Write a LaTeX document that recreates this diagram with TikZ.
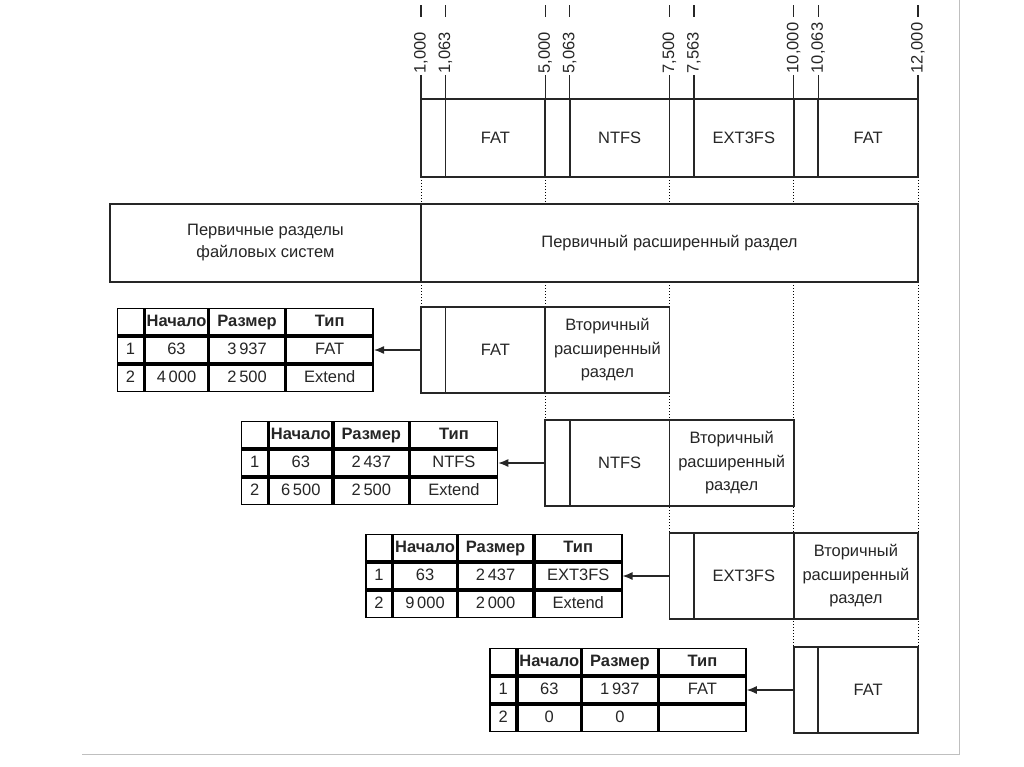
\documentclass[tikz,border=0pt]{standalone}
\usepackage{fontspec}
\setmainfont{Liberation Sans}
\usetikzlibrary{positioning, matrix, arrows.meta, backgrounds}

\begin{document}
\begin{tikzpicture}[x=1pt, y=-1pt, black!85, line width=1.6pt,
  font=\fontsize{16.5}{22}\selectfont]

  % styles
  \tikzset{
    seg/.style={rectangle, draw, fill=white, inner sep=0pt, outer sep=0pt, minimum height=78pt, align=center},
    boot/.style={seg, minimum width=24.5pt},
    fs/.style={seg, minimum width=99.75pt},
    sub/.style={minimum height=86pt},
    second/.style={seg, sub, minimum width=124.25pt, font=\fontsize{16.5}{23.5}\selectfont},
    ticklab/.style={rotate=90, anchor=west, inner sep=1pt},
    guide/.style={dotted, line width=1pt},
    arrow/.style={line width=1.3pt, -{Latex[length=10pt,width=8pt]}},
    fattable/.style={matrix of nodes, nodes in empty cells, inner sep=0pt, outer sep=0pt,
      column sep=0pt, row sep=0pt,
      nodes={draw, inner sep=0pt, outer sep=0pt, minimum height=26.5pt, text height=12pt, text depth=3.5pt, anchor=center},
      column 1/.style={nodes={minimum width=26pt}},
      column 2/.style={nodes={minimum width=63pt}},
      column 3/.style={nodes={minimum width=75pt}},
      column 4/.style={nodes={minimum width=87pt}},
      row 1/.style={nodes={font=\fontsize{16.5}{18}\selectfont\bfseries}}}
  }

  \useasboundingbox (0,0) rectangle (1024,767);
  \draw[black!25, line width=0.8pt] (82,754) -- (959,754) -- (959,0);

  % disk
  \node[boot, anchor=north west] (b1) at (421,99) {};
  \node[fs, right=0pt of b1] (d1) {FAT};
  \node[boot, right=0pt of d1] (b2) {};
  \node[fs, right=0pt of b2] (d2) {NTFS};
  \node[boot, right=0pt of d2] (b3) {};
  \node[fs, right=0pt of b3] (d3) {EXT3FS};
  \node[boot, right=0pt of d3] (b4) {};
  \node[fs, right=0pt of b4] (d4) {FAT};

  % offsets
  \foreach \bx/\lab in {b1/{1,000}, d1/{1,063}, b2/{5,000}, d2/{5,063}, b3/{7,500}, d3/{7,563}, b4/{10,000}, d4/{10,063}} {
    \node[ticklab] (l\bx) at ([yshift=24pt]\bx.north west) {\lab};
    \draw[line width=1.1pt] (l\bx.west) -- (\bx.north west);
    \draw[line width=1.1pt] ([yshift=82pt]\bx.north west) -- ([yshift=94pt]\bx.north west);
  }
  \node[ticklab] (lend) at ([yshift=24pt]d4.north east) {12,000};
  \draw[line width=1.1pt] (lend.west) -- (d4.north east);
  \draw[line width=1.1pt] ([yshift=82pt]d4.north east) -- ([yshift=94pt]d4.north east);

  % primary partitions
  \node[seg, minimum width=497pt, below=27pt of b1.south west, anchor=north west] (ext) {Первичный расширенный раздел};
  \node[seg, minimum width=311pt, left=0pt of ext] (prim) {Первичные разделы\\файловых систем};

  % extended partition chain
  \node[boot, sub, below=25pt of ext.south west, anchor=north west] (r1b) {};
  \node[fs, sub, right=0pt of r1b] (r1f) {FAT};
  \node[second, right=0pt of r1f] (r1s) {Вторичный\\расширенный\\раздел};

  \node[boot, sub, anchor=north west] (r2b) at ([yshift=-27pt]r1b.south -| b2.west) {};
  \node[fs, sub, right=0pt of r2b] (r2f) {NTFS};
  \node[second, right=0pt of r2f] (r2s) {Вторичный\\расширенный\\раздел};

  \node[boot, sub, anchor=north west] (r3b) at ([yshift=-27pt]r2b.south -| b3.west) {};
  \node[fs, sub, right=0pt of r3b] (r3f) {EXT3FS};
  \node[second, right=0pt of r3f] (r3s) {Вторичный\\расширенный\\раздел};

  \node[boot, sub, anchor=north west] (r4b) at ([yshift=-28pt]r3b.south -| b4.west) {};
  \node[fs, sub, right=0pt of r4b] (r4f) {FAT};

  % partition tables
  \matrix (t1) [fattable, left=47pt of r1b] {
     & Начало & Размер & Тип \\
    1 & 63 & 3\,937 & FAT \\
    2 & 4\,000 & 2\,500 & Extend \\
  };
  \matrix (t2) [fattable, left=47pt of r2b] {
     & Начало & Размер & Тип \\
    1 & 63 & 2\,437 & NTFS \\
    2 & 6\,500 & 2\,500 & Extend \\
  };
  \matrix (t3) [fattable, left=47pt of r3b] {
     & Начало & Размер & Тип \\
    1 & 63 & 2\,437 & EXT3FS \\
    2 & 9\,000 & 2\,000 & Extend \\
  };
  \matrix (t4) [fattable, left=47pt of r4b] {
     & Начало & Размер & Тип \\
    1 & 63 & 1\,937 & FAT \\
    2 & 0 & 0 & \\
  };

  % arrows
  \draw[arrow] (r1b) -- (t1);
  \draw[arrow] (r2b) -- (t2);
  \draw[arrow] (r3b) -- (t3);
  \draw[arrow] (r4b) -- (t4);

  % dotted guides
  \begin{scope}[on background layer]
    \draw[guide] (b1.south west) -- (r1b.north west);
    \draw[guide] (b2.south west) -- (r2b.north west);
    \draw[guide] (b3.south west) -- (r3b.north west);
    \draw[guide] (b4.south west) -- (r4b.north west);
    \draw[guide] (d4.south east) -- (r4f.north east);
  \end{scope}

\end{tikzpicture}
\end{document}
